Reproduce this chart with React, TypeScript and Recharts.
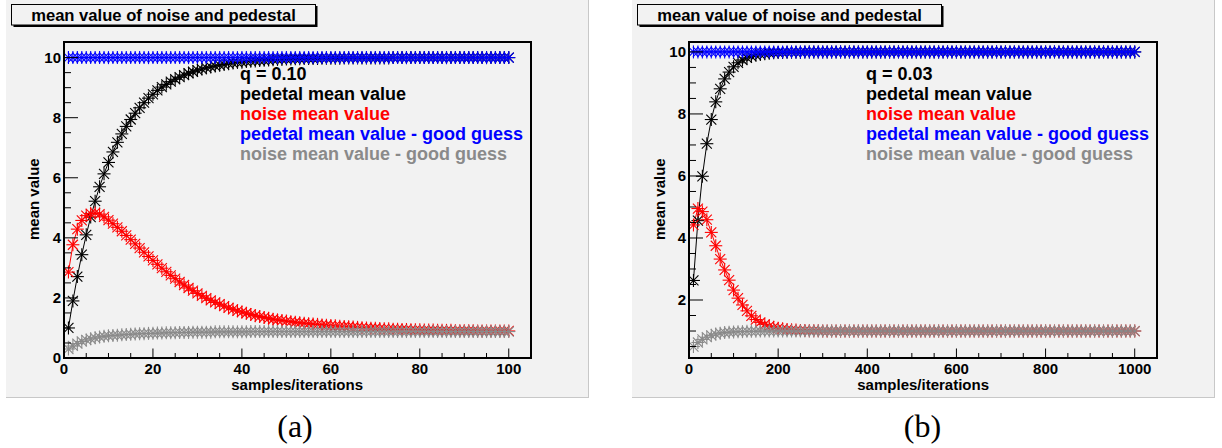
import React from 'react';
import { ComposedChart, Line, XAxis, YAxis } from 'recharts';

// ---------- panel (a): q = 0.10, samples 1..100 ----------
const xA = [
  1, 2, 3, 4, 5, 6, 7, 8, 9, 10, 11, 12, 13, 14, 15, 16, 17, 18, 19, 20,
  21, 22, 23, 24, 25, 26, 27, 28, 29, 30, 31, 32, 33, 34, 35, 36, 37, 38, 39, 40,
  41, 42, 43, 44, 45, 46, 47, 48, 49, 50, 51, 52, 53, 54, 55, 56, 57, 58, 59, 60,
  61, 62, 63, 64, 65, 66, 67, 68, 69, 70, 71, 72, 73, 74, 75, 76, 77, 78, 79, 80,
  81, 82, 83, 84, 85, 86, 87, 88, 89, 90, 91, 92, 93, 94, 95, 96, 97, 98, 99, 100,
];
const pedestalA = [
  1.0, 1.9, 2.71, 3.44, 4.1, 4.69, 5.22, 5.7, 6.13, 6.51,
  6.86, 7.18, 7.46, 7.71, 7.94, 8.15, 8.33, 8.5, 8.65, 8.78,
  8.91, 9.02, 9.11, 9.2, 9.28, 9.35, 9.42, 9.48, 9.53, 9.58,
  9.62, 9.66, 9.69, 9.72, 9.75, 9.77, 9.8, 9.82, 9.84, 9.85,
  9.87, 9.88, 9.89, 9.9, 9.91, 9.92, 9.93, 9.94, 9.94, 9.95,
  9.95, 9.96, 9.96, 9.97, 9.97, 9.97, 9.97, 9.98, 9.98, 9.98,
  9.98, 9.98, 9.99, 9.99, 9.99, 9.99, 9.99, 9.99, 9.99, 9.99,
  9.99, 9.99, 9.99, 10.0, 10.0, 10.0, 10.0, 10.0, 10.0, 10.0,
  10.0, 10.0, 10.0, 10.0, 10.0, 10.0, 10.0, 10.0, 10.0, 10.0,
  10.0, 10.0, 10.0, 10.0, 10.0, 10.0, 10.0, 10.0, 10.0, 10.0,
];
const noiseA = [
  2.86, 3.77, 4.29, 4.58, 4.74, 4.81, 4.83, 4.79, 4.7, 4.59,
  4.47, 4.35, 4.22, 4.08, 3.94, 3.8, 3.66, 3.52, 3.38, 3.25,
  3.12, 2.99, 2.87, 2.75, 2.64, 2.53, 2.43, 2.33, 2.24, 2.15,
  2.07, 1.99, 1.92, 1.85, 1.79, 1.73, 1.67, 1.62, 1.57, 1.53,
  1.49, 1.45, 1.41, 1.38, 1.35, 1.32, 1.29, 1.27, 1.25, 1.23,
  1.21, 1.19, 1.17, 1.16, 1.14, 1.13, 1.12, 1.1, 1.09, 1.08,
  1.07, 1.06, 1.05, 1.04, 1.03, 1.02, 1.01, 1.0, 0.99, 0.99,
  0.98, 0.97, 0.97, 0.96, 0.96, 0.95, 0.95, 0.94, 0.94, 0.94,
  0.93, 0.93, 0.93, 0.92, 0.92, 0.92, 0.92, 0.91, 0.91, 0.91,
  0.91, 0.91, 0.9, 0.9, 0.9, 0.9, 0.9, 0.9, 0.9, 0.9,
];
const pedestalGoodA = [
  10, 10, 10, 10, 10, 10, 10, 10, 10, 10, 10, 10, 10, 10, 10, 10, 10, 10, 10, 10,
  10, 10, 10, 10, 10, 10, 10, 10, 10, 10, 10, 10, 10, 10, 10, 10, 10, 10, 10, 10,
  10, 10, 10, 10, 10, 10, 10, 10, 10, 10, 10, 10, 10, 10, 10, 10, 10, 10, 10, 10,
  10, 10, 10, 10, 10, 10, 10, 10, 10, 10, 10, 10, 10, 10, 10, 10, 10, 10, 10, 10,
  10, 10, 10, 10, 10, 10, 10, 10, 10, 10, 10, 10, 10, 10, 10, 10, 10, 10, 10, 10,
];
const noiseGoodA = [
  0.3, 0.4, 0.48, 0.55, 0.6, 0.64, 0.67, 0.7, 0.72, 0.74,
  0.75, 0.76, 0.77, 0.78, 0.79, 0.8, 0.81, 0.81, 0.82, 0.82,
  0.83, 0.83, 0.84, 0.84, 0.84, 0.85, 0.85, 0.85, 0.86, 0.86,
  0.86, 0.86, 0.86, 0.87, 0.87, 0.87, 0.87, 0.87, 0.87, 0.87,
  0.87, 0.88, 0.88, 0.88, 0.88, 0.88, 0.88, 0.88, 0.88, 0.88,
  0.88, 0.88, 0.88, 0.88, 0.88, 0.88, 0.88, 0.88, 0.88, 0.88,
  0.88, 0.88, 0.88, 0.88, 0.88, 0.88, 0.88, 0.88, 0.88, 0.88,
  0.88, 0.88, 0.88, 0.88, 0.88, 0.88, 0.88, 0.88, 0.88, 0.88,
  0.88, 0.88, 0.88, 0.88, 0.88, 0.88, 0.88, 0.88, 0.88, 0.88,
  0.88, 0.88, 0.88, 0.88, 0.88, 0.88, 0.88, 0.88, 0.88, 0.88,
];

// ---------- panel (b): q = 0.03, samples 10..1000 ----------
const xB = [
  10, 20, 30, 40, 50, 60, 70, 80, 90, 100, 110, 120, 130, 140, 150, 160, 170, 180, 190, 200,
  210, 220, 230, 240, 250, 260, 270, 280, 290, 300, 310, 320, 330, 340, 350, 360, 370, 380, 390, 400,
  410, 420, 430, 440, 450, 460, 470, 480, 490, 500, 510, 520, 530, 540, 550, 560, 570, 580, 590, 600,
  610, 620, 630, 640, 650, 660, 670, 680, 690, 700, 710, 720, 730, 740, 750, 760, 770, 780, 790, 800,
  810, 820, 830, 840, 850, 860, 870, 880, 890, 900, 910, 920, 930, 940, 950, 960, 970, 980, 990, 1000,
];
const pedestalB = [
  2.63, 4.56, 5.99, 7.04, 7.82, 8.39, 8.81, 9.13, 9.35, 9.52,
  9.65, 9.74, 9.81, 9.86, 9.9, 9.92, 9.94, 9.96, 9.97, 9.98,
  9.98, 9.99, 9.99, 9.99, 9.99, 10.0, 10.0, 10.0, 10.0, 10.0,
  10.0, 10.0, 10.0, 10.0, 10.0, 10.0, 10.0, 10.0, 10.0, 10.0,
  10.0, 10.0, 10.0, 10.0, 10.0, 10.0, 10.0, 10.0, 10.0, 10.0,
  10.0, 10.0, 10.0, 10.0, 10.0, 10.0, 10.0, 10.0, 10.0, 10.0,
  10.0, 10.0, 10.0, 10.0, 10.0, 10.0, 10.0, 10.0, 10.0, 10.0,
  10.0, 10.0, 10.0, 10.0, 10.0, 10.0, 10.0, 10.0, 10.0, 10.0,
  10.0, 10.0, 10.0, 10.0, 10.0, 10.0, 10.0, 10.0, 10.0, 10.0,
  10.0, 10.0, 10.0, 10.0, 10.0, 10.0, 10.0, 10.0, 10.0, 10.0,
];
const noiseB = [
  4.42, 4.95, 4.85, 4.59, 4.18, 3.75, 3.32, 2.97, 2.64, 2.32,
  2.06, 1.84, 1.65, 1.49, 1.37, 1.28, 1.21, 1.16, 1.12, 1.09,
  1.07, 1.05, 1.04, 1.03, 1.02, 1.02, 1.01, 1.01, 1.01, 1.0,
  1.0, 1.0, 1.0, 1.0, 1.0, 1.0, 1.0, 1.0, 1.0, 1.0,
  1.0, 1.0, 1.0, 1.0, 1.0, 1.0, 1.0, 1.0, 1.0, 1.0,
  1.0, 1.0, 1.0, 1.0, 1.0, 1.0, 1.0, 1.0, 1.0, 1.0,
  1.0, 1.0, 1.0, 1.0, 1.0, 1.0, 1.0, 1.0, 1.0, 1.0,
  1.0, 1.0, 1.0, 1.0, 1.0, 1.0, 1.0, 1.0, 1.0, 1.0,
  1.0, 1.0, 1.0, 1.0, 1.0, 1.0, 1.0, 1.0, 1.0, 1.0,
  1.0, 1.0, 1.0, 1.0, 1.0, 1.0, 1.0, 1.0, 1.0, 1.0,
];
const pedestalGoodB = [
  10, 10, 10, 10, 10, 10, 10, 10, 10, 10, 10, 10, 10, 10, 10, 10, 10, 10, 10, 10,
  10, 10, 10, 10, 10, 10, 10, 10, 10, 10, 10, 10, 10, 10, 10, 10, 10, 10, 10, 10,
  10, 10, 10, 10, 10, 10, 10, 10, 10, 10, 10, 10, 10, 10, 10, 10, 10, 10, 10, 10,
  10, 10, 10, 10, 10, 10, 10, 10, 10, 10, 10, 10, 10, 10, 10, 10, 10, 10, 10, 10,
  10, 10, 10, 10, 10, 10, 10, 10, 10, 10, 10, 10, 10, 10, 10, 10, 10, 10, 10, 10,
];
const noiseGoodB = [
  0.5, 0.63, 0.73, 0.8, 0.86, 0.9, 0.93, 0.95, 0.96, 0.97,
  0.98, 0.98, 0.99, 0.99, 0.99, 1.0, 1.0, 1.0, 1.0, 1.0,
  1.0, 1.0, 1.0, 1.0, 1.0, 1.0, 1.0, 1.0, 1.0, 1.0,
  1.0, 1.0, 1.0, 1.0, 1.0, 1.0, 1.0, 1.0, 1.0, 1.0,
  1.0, 1.0, 1.0, 1.0, 1.0, 1.0, 1.0, 1.0, 1.0, 1.0,
  1.0, 1.0, 1.0, 1.0, 1.0, 1.0, 1.0, 1.0, 1.0, 1.0,
  1.0, 1.0, 1.0, 1.0, 1.0, 1.0, 1.0, 1.0, 1.0, 1.0,
  1.0, 1.0, 1.0, 1.0, 1.0, 1.0, 1.0, 1.0, 1.0, 1.0,
  1.0, 1.0, 1.0, 1.0, 1.0, 1.0, 1.0, 1.0, 1.0, 1.0,
  1.0, 1.0, 1.0, 1.0, 1.0, 1.0, 1.0, 1.0, 1.0, 1.0,
];

// ---------- ticks ----------
const xTicksA = [0, 5, 10, 15, 20, 25, 30, 35, 40, 45, 50, 55, 60, 65, 70, 75, 80, 85, 90, 95, 100];
const xMajorsA = [0, 20, 40, 60, 80, 100];
const xTicksB = [0, 50, 100, 150, 200, 250, 300, 350, 400, 450, 500, 550, 600, 650, 700, 750, 800, 850, 900, 950, 1000];
const xMajorsB = [0, 200, 400, 600, 800, 1000];
const yTicksA = [0, 0.5, 1, 1.5, 2, 2.5, 3, 3.5, 4, 4.5, 5, 5.5, 6, 6.5, 7, 7.5, 8, 8.5, 9, 9.5, 10];
const yMajorsA = [0, 2, 4, 6, 8, 10];
const yTicksB = [0.5, 1, 1.5, 2, 2.5, 3, 3.5, 4, 4.5, 5, 5.5, 6, 6.5, 7, 7.5, 8, 8.5, 9, 9.5, 10];
const yMajorsB = [2, 4, 6, 8, 10];

const titleText = 'mean value of noise and pedestal';
const legendLabels = ['pedetal mean value', 'noise mean value', 'pedetal mean value - good guess', 'noise mean value - good guess'];
const seriesColors = ['#000000', '#ff0000', '#0000ff', '#8a8a8a'];

const FONT = '"Liberation Sans", Arial, Helvetica, sans-serif';
const BG = '#f2f2f2';
const PANEL_W = 583;
const PANEL_H = 398;
const PLOT_TOP = 42;
const PLOT_BOTTOM = 358;
const PLOT_RIGHT = 525;
const YW = 40;
const XH = 30;

function buildRows(xs: number[], a: number[], b: number[], c: number[], d: number[]) {
  return xs.map((x, i) => ({ x, pedestal: a[i], noise: b[i], pedestalGood: c[i], noiseGood: d[i] }));
}

const dataA = buildRows(xA, pedestalA, noiseA, pedestalGoodA, noiseGoodA);
const dataB = buildRows(xB, pedestalB, noiseB, pedestalGoodB, noiseGoodB);

function Star({ cx, cy, color }: { cx?: number; cy?: number; color: string }) {
  if (cx == null || cy == null || isNaN(cx) || isNaN(cy)) return <g />;
  const r = 6.5;
  const d = 5;
  return (
    <g stroke={color} strokeWidth={1.1} fill="none">
      <line x1={cx - r} y1={cy} x2={cx + r} y2={cy} />
      <line x1={cx} y1={cy - r} x2={cx} y2={cy + r} />
      <line x1={cx - d} y1={cy - d} x2={cx + d} y2={cy + d} />
      <line x1={cx - d} y1={cy + d} x2={cx + d} y2={cy - d} />
    </g>
  );
}

const makeDot = (color: string, tag: string) => (p: any) => (
  <Star key={`${tag}-${p.index}`} cx={p.cx} cy={p.cy} color={color} />
);

const makeXTick = (majors: number[]) => (p: any) => {
  const { x, y, payload, index } = p;
  const v = payload.value;
  const major = majors.includes(v);
  return (
    <g key={`xt-${index}`}>
      <line x1={x} y1={y} x2={x} y2={y - (major ? 9.5 : 5)} stroke="#000" strokeWidth={1} />
      {major && (
        <text x={x} y={y + 15.5} textAnchor="middle" fontFamily={FONT} fontWeight="bold" fontSize={15} fill="#000">
          {v}
        </text>
      )}
    </g>
  );
};

const makeYTick = (majors: number[]) => (p: any) => {
  const { x, y, payload, index } = p;
  const v = payload.value;
  const major = majors.includes(v);
  return (
    <g key={`yt-${index}`}>
      <line x1={x} y1={y} x2={x + (major ? 14 : 7)} y2={y} stroke="#000" strokeWidth={1} />
      {major && (
        <text x={x - 3} y={y + 5.3} textAnchor="end" fontFamily={FONT} fontWeight="bold" fontSize={15} fill="#000">
          {v}
        </text>
      )}
    </g>
  );
};

type PanelProps = {
  left: number;
  plotLeft: number;
  data: any[];
  xDomain: [number, number];
  xTicks: number[];
  xMajors: number[];
  yDomain: [number, number];
  yTicks: number[];
  yMajors: number[];
  qLabel: string;
};

function Panel({ left, plotLeft, data, xDomain, xTicks, xMajors, yDomain, yTicks, yMajors, qLabel }: PanelProps) {
  return (
    <div style={{ position: 'absolute', left, top: 0, width: PANEL_W, height: PANEL_H, background: BG }}>
      <svg width={PANEL_W} height={PANEL_H} style={{ position: 'absolute', left: 0, top: 0 }}>
        <line x1={PANEL_W - 0.5} y1={0} x2={PANEL_W - 0.5} y2={PANEL_H} stroke="#c8c8c8" strokeWidth={1} />
        <line x1={0} y1={PANEL_H - 0.5} x2={PANEL_W} y2={PANEL_H - 0.5} stroke="#c8c8c8" strokeWidth={1} />
        <rect x={7.5} y={6} width={304} height={21} fill="#000" />
        <rect x={5.5} y={4.5} width={304} height={20.5} fill={BG} stroke="#000" strokeWidth={1} />
        <text x={157.5} y={20.5} textAnchor="middle" fontFamily={FONT} fontWeight="bold" fontSize={16.6} fill="#000">
          {titleText}
        </text>
      </svg>
      <div style={{ position: 'absolute', left: 0, top: 0 }}>
        <ComposedChart
          width={PANEL_W}
          height={PANEL_H}
          data={data}
          margin={{ top: PLOT_TOP, right: PANEL_W - PLOT_RIGHT, bottom: PANEL_H - PLOT_BOTTOM - XH, left: plotLeft - YW }}
        >
          <XAxis
            dataKey="x"
            type="number"
            domain={xDomain}
            allowDataOverflow
            ticks={xTicks}
            interval={0}
            tickSize={0}
            tickMargin={0}
            axisLine={false}
            tickLine={false}
            height={XH}
            tick={makeXTick(xMajors)}
          />
          <YAxis
            type="number"
            domain={yDomain}
            allowDataOverflow
            ticks={yTicks}
            interval={0}
            tickSize={0}
            tickMargin={0}
            axisLine={false}
            tickLine={false}
            width={YW}
            tick={makeYTick(yMajors)}
          />
          <Line dataKey="pedestal" type="linear" stroke={seriesColors[0]} strokeWidth={1} dot={makeDot(seriesColors[0], 'p')} activeDot={false} isAnimationActive={false} />
          <Line dataKey="noise" type="linear" stroke={seriesColors[1]} strokeWidth={1} dot={makeDot(seriesColors[1], 'n')} activeDot={false} isAnimationActive={false} />
          <Line dataKey="pedestalGood" type="linear" stroke="none" dot={makeDot(seriesColors[2], 'pg')} activeDot={false} isAnimationActive={false} />
          <Line dataKey="noiseGood" type="linear" stroke="none" dot={makeDot(seriesColors[3], 'ng')} activeDot={false} isAnimationActive={false} />
        </ComposedChart>
      </div>
      <svg width={PANEL_W} height={PANEL_H} style={{ position: 'absolute', left: 0, top: 0, pointerEvents: 'none' }}>
        <rect x={plotLeft} y={PLOT_TOP} width={PLOT_RIGHT - plotLeft} height={PLOT_BOTTOM - PLOT_TOP} fill="none" stroke="#000" strokeWidth={2} />
        <text x={234} y={80} fontFamily={FONT} fontWeight="bold" fontSize={18} fill="#000">{qLabel}</text>
        {legendLabels.map((t, i) => (
          <text key={t} x={234} y={100 + i * 20} fontFamily={FONT} fontWeight="bold" fontSize={18} fill={seriesColors[i]}>
            {t}
          </text>
        ))}
        <text x={357} y={389.5} textAnchor="end" fontFamily={FONT} fontWeight="bold" fontSize={15} fill="#000">
          samples/iterations
        </text>
        <text transform="translate(33,240) rotate(-90)" x={0} y={0} textAnchor="start" fontFamily={FONT} fontWeight="bold" fontSize={15} fill="#000">
          mean value
        </text>
      </svg>
    </div>
  );
}

export default function App() {
  return (
    <div style={{ position: 'absolute', left: 0, top: 0, width: 1222, height: 448, background: '#fff', overflow: 'hidden' }}>
      <Panel
        left={6}
        plotLeft={58}
        data={dataA}
        xDomain={[0, 105]}
        xTicks={xTicksA}
        xMajors={xMajorsA}
        yDomain={[0, 10.52]}
        yTicks={yTicksA}
        yMajors={yMajorsA}
        qLabel="q = 0.10"
      />
      <Panel
        left={632}
        plotLeft={57}
        data={dataB}
        xDomain={[0, 1050]}
        xTicks={xTicksB}
        xMajors={xMajorsB}
        yDomain={[0.13, 10.32]}
        yTicks={yTicksB}
        yMajors={yMajorsB}
        qLabel="q = 0.03"
      />
      <svg width={1222} height={448} style={{ position: 'absolute', left: 0, top: 0, pointerEvents: 'none' }}>
        <text x={295} y={437} textAnchor="middle" fontFamily='"Liberation Serif", "Times New Roman", serif' fontSize={32} fill="#000">(a)</text>
        <text x={922.5} y={437} textAnchor="middle" fontFamily='"Liberation Serif", "Times New Roman", serif' fontSize={32} fill="#000">(b)</text>
      </svg>
    </div>
  );
}
